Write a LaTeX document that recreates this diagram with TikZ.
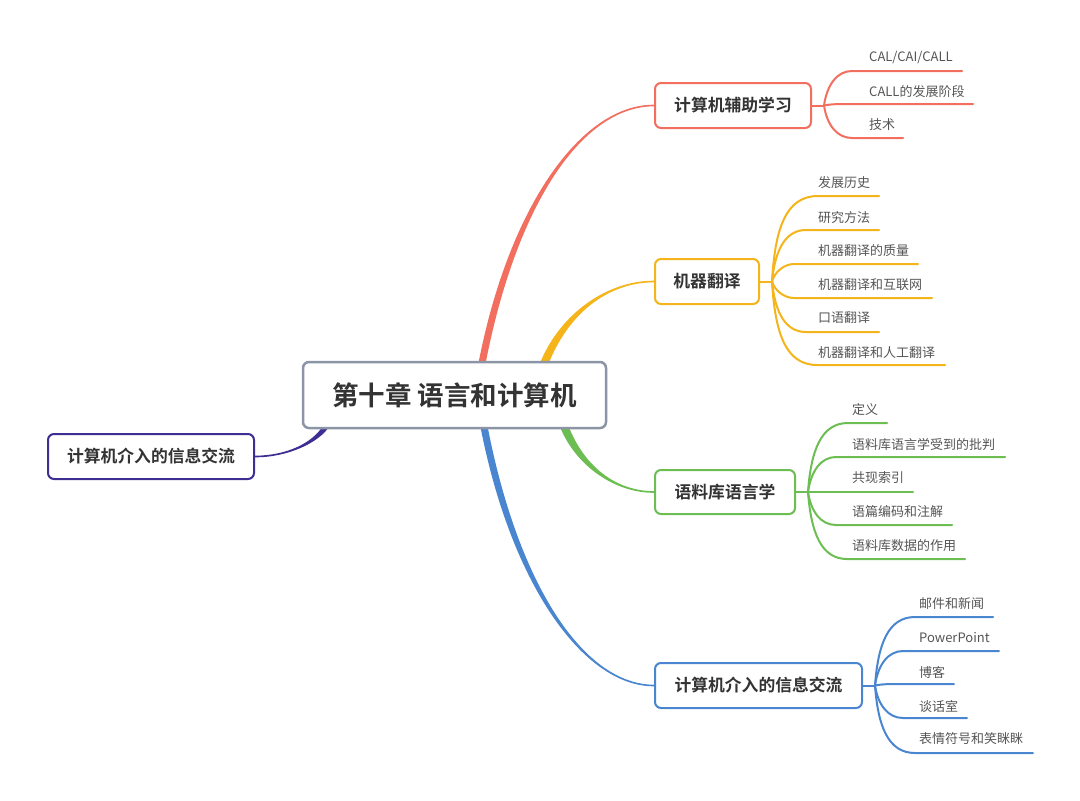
\documentclass[tikz,border=0pt]{standalone}
\usepackage{fontspec}
\setmainfont{Noto Sans CJK SC}[BoldFont={Noto Sans CJK SC Bold}]
\usetikzlibrary{calc,backgrounds}
\definecolor{cred}{HTML}{F26E5E}
\definecolor{cyel}{HTML}{F4B41A}
\definecolor{cgrn}{HTML}{6DBE52}
\definecolor{cblu}{HTML}{4A86D0}
\definecolor{cpur}{HTML}{3D2F92}
\definecolor{cgry}{HTML}{8C95A5}
\definecolor{ctxt}{HTML}{333333}
\definecolor{cleaf}{HTML}{555555}
\tikzset{
 topic/.style={draw=#1, line width=2pt, rounded corners=6pt, fill=white, text=ctxt,
   font=\fontsize{16.8}{20}\selectfont\bfseries, inner sep=0pt, minimum height=45pt},
 leaf/.style={anchor=west, inner sep=0pt, text=cleaf, font=\fontsize{13}{15}\selectfont},
 twigline/.style={draw=#1, line width=2pt, line cap=round},
}
% #1 fork, #2 end, #3 bend length, #4 colour
\newcommand{\twig}[4]{%
 \draw[twigline=#4] (#1) .. controls ($(#1)!0.6!(#1|-#2)+(3,0)$) and ($(#1|-#2)+(13,0)$) .. ($(#1|-#2)+(#3,0)$) -- (#2);}
% #1 start, #2 c1, #3 c2, #4 end, #5 sign, #6 colour, #7 half width
\newcommand{\limb}[7]{%
 \fill[#6] ($(#1)+(-#7,0)$) .. controls ($#2+(-#7,0)$) and ($#3+(0,-1.0*#5)$) .. ($(#4)+(0,-0.8*#5)$)
   -- ($(#4)+(0,0.8*#5)$) .. controls ($#3+(0,1.0*#5)$) and ($#2+(#7,0)$) .. ($(#1)+(#7,0)$) -- cycle;}
\begin{document}
\begin{tikzpicture}[x=1pt,y=-1pt]
\useasboundingbox (0,0) rectangle (1080,801);
% topics
\node[topic=cgry, line width=2.5pt, minimum width=303pt, minimum height=66pt,
  font=\fontsize{26.5}{30}\selectfont\bfseries] (c) at (454.5,395) {第十章 语言和计算机};
\node[topic=cred, minimum width=156pt] (n1) at (733,105.5) {计算机辅助学习};
\node[topic=cyel, minimum width=104pt] (n2) at (707,281.5) {机器翻译};
\node[topic=cgrn, minimum width=140pt, minimum height=44pt] (n3) at (725,492) {语料库语言学};
\node[topic=cblu, minimum width=207pt] (n4) at (758.5,685.5) {计算机介入的信息交流};
\node[topic=cpur, minimum width=206pt] (n5) at (151,456.5) {计算机介入的信息交流};
% forks
\coordinate (f1) at ($(n1.east)+(12,0)$);
\coordinate (f2) at ($(n2.east)+(12,0)$);
\coordinate (f3) at ($(n3.east)+(12,0)$);
\coordinate (f4) at ($(n4.east)+(12,0)$);
% main connector ends
\coordinate (sr) at ($(c.north west)+(180,4)$);
\coordinate (sy) at ($(c.north west)+(242,4)$);
\coordinate (sg) at ($(c.south west)+(262,-4)$);
\coordinate (sb) at ($(c.south west)+(182,-4)$);
\coordinate (sp) at ($(c.south west)+(25,-4)$);
% leaves
\node[leaf] (l11) at (869,57) {CAL/CAI/CALL};
\node[leaf] (l12) at (869,92) {CALL的发展阶段};
\node[leaf] (l13) at (869,125) {技术};
\coordinate (e11) at (962,71);
\coordinate (e12) at (973,104);
\coordinate (e13) at (903,138);

\node[leaf] (l21) at (818,183) {发展历史};
\node[leaf] (l22) at (818,218) {研究方法};
\node[leaf] (l23) at (818,251) {机器翻译的质量};
\node[leaf] (l24) at (818,285) {机器翻译和互联网};
\node[leaf] (l25) at (818,318) {口语翻译};
\node[leaf] (l26) at (818,353) {机器翻译和人工翻译};
\coordinate (e21) at (879,196);
\coordinate (e22) at (879,230);
\coordinate (e23) at (918,264);
\coordinate (e24) at (932,298);
\coordinate (e25) at (879,332);
\coordinate (e26) at (945,365);

\node[leaf] (l31) at (852,410) {定义};
\node[leaf] (l32) at (852,445) {语料库语言学受到的批判};
\node[leaf] (l33) at (852,478) {共现索引};
\node[leaf] (l34) at (852,512) {语篇编码和注解};
\node[leaf] (l35) at (852,546) {语料库数据的作用};
\coordinate (e31) at (887,423);
\coordinate (e32) at (1005,457);
\coordinate (e33) at (913,492);
\coordinate (e34) at (952,525);
\coordinate (e35) at (965,559);

\node[leaf] (l41) at (919,604) {邮件和新闻};
\node[leaf] (l42) at (919,638) {PowerPoint};
\node[leaf] (l43) at (919,672) {博客};
\node[leaf] (l44) at (919,706) {谈话室};
\node[leaf] (l45) at (919,739) {表情符号和笑眯眯};
\coordinate (e41) at (993,617);
\coordinate (e42) at (999,651);
\coordinate (e43) at (954,684);
\coordinate (e44) at (967,718);
\coordinate (e45) at (1033,753);

\begin{scope}[on background layer]
\limb{sr}{(512,207)}{(581,105.5)}{n1.west}{1}{cred}{3.6}
\limb{sy}{(564,313)}{(608,281.5)}{n2.west}{1}{cyel}{4.4}
\limb{sg}{(580,467)}{(616,492)}{n3.west}{-1}{cgrn}{4.4}
\limb{sb}{(514,583)}{(583,685.5)}{n4.west}{-1}{cblu}{3.6}
\limb{sp}{(316,443)}{(287,456.5)}{n5.east}{1}{cpur}{3.4}

\draw[twigline=cred] (n1.east) -- (f1);
\draw[twigline=cyel] (n2.east) -- (f2);
\draw[twigline=cgrn] (n3.east) -- (f3);
\draw[twigline=cblu] (n4.east) -- (f4);

\twig{f1}{e11}{28}{cred}
\twig{f1}{e12}{16}{cred}
\twig{f1}{e13}{28}{cred}

\twig{f2}{e21}{46}{cyel}
\twig{f2}{e22}{34}{cyel}
\twig{f2}{e23}{22}{cyel}
\twig{f2}{e24}{22}{cyel}
\twig{f2}{e25}{34}{cyel}
\twig{f2}{e26}{45}{cyel}

\twig{f3}{e31}{40}{cgrn}
\twig{f3}{e32}{28}{cgrn}
\twig{f3}{e33}{16}{cgrn}
\twig{f3}{e34}{28}{cgrn}
\twig{f3}{e35}{39}{cgrn}

\twig{f4}{e41}{40}{cblu}
\twig{f4}{e42}{28}{cblu}
\twig{f4}{e43}{16}{cblu}
\twig{f4}{e44}{28}{cblu}
\twig{f4}{e45}{40}{cblu}
\end{scope}
\end{tikzpicture}
\end{document}
